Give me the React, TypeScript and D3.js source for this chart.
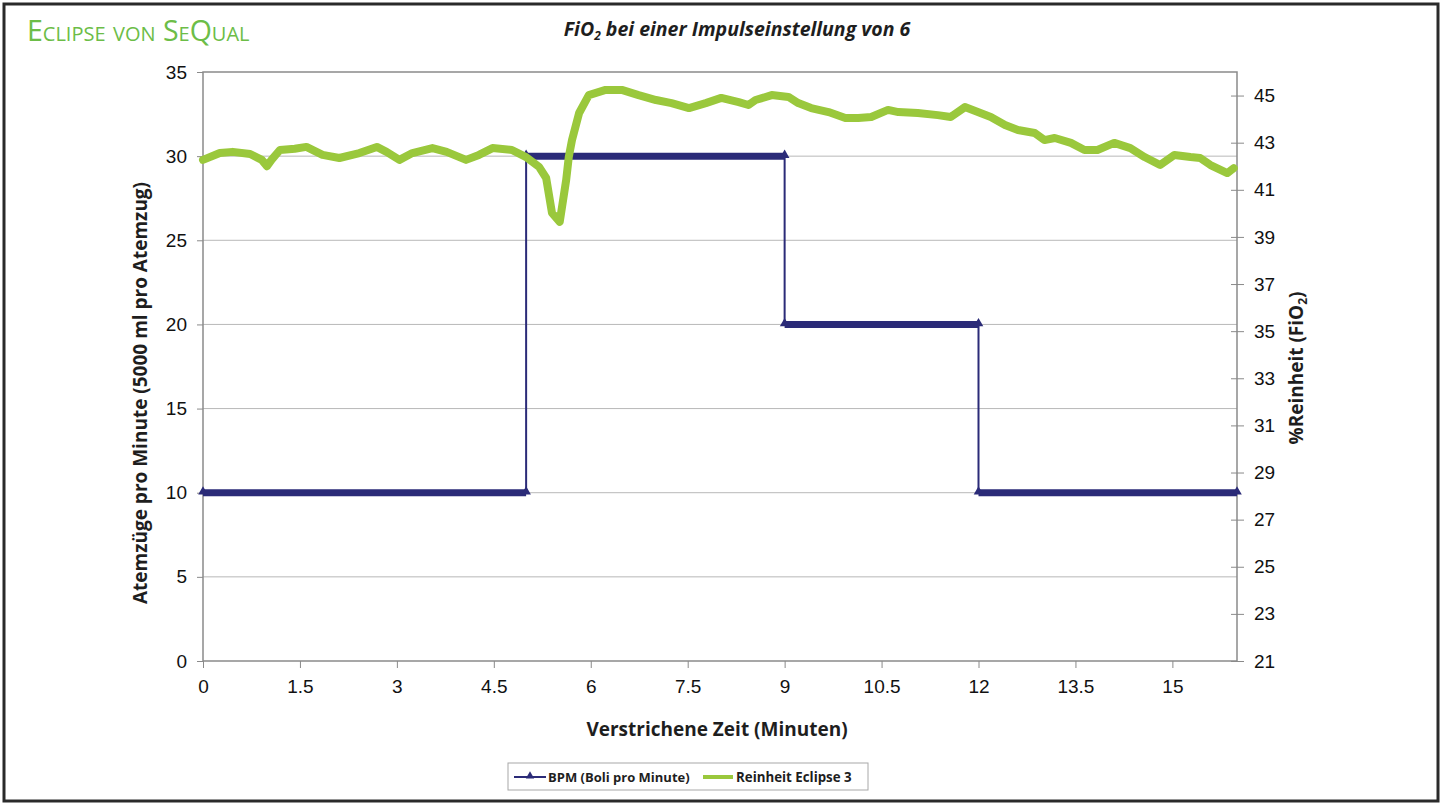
import { useEffect, useRef } from "react";
import * as d3 from "d3";

// BPM step series (Boli pro Minute)
const bpmStart = [0, 5, 9, 12];
const bpmEnd = [5, 9, 12, 16];
const bpmValue = [10, 30, 20, 10];

// purity readings (minutes, %FiO2)
const purityTime = [
  0, 0.26, 0.46, 0.73, 0.91, 0.99, 1.06, 1.19, 1.42, 1.6, 1.85, 2.11, 2.42, 2.69, 2.84, 3.04,
  3.24, 3.55, 3.77, 4.07, 4.27, 4.48, 4.78, 5.0, 5.2, 5.31, 5.4, 5.52, 5.62, 5.66, 5.71, 5.82,
  5.97, 6.23, 6.48, 6.74, 7.01, 7.25, 7.52, 7.78, 8.02, 8.29, 8.44, 8.55, 8.8, 9.06, 9.21, 9.41,
  9.68, 9.94, 10.14, 10.34, 10.6, 10.76, 11.06, 11.37, 11.57, 11.79, 11.99, 12.19, 12.41, 12.61,
  12.87, 13.02, 13.18, 13.43, 13.64, 13.84, 14.1, 14.35, 14.57, 14.81, 15.03, 15.28, 15.43,
  15.59, 15.85, 15.95,
];
const purityValue = [
  42.27, 42.56, 42.61, 42.52, 42.27, 42.0, 42.27, 42.69, 42.74, 42.82, 42.48, 42.35, 42.56,
  42.82, 42.61, 42.27, 42.56, 42.77, 42.61, 42.27, 42.48, 42.77, 42.69, 42.39, 41.97, 41.5,
  40.02, 39.64, 41.42, 42.39, 43.11, 44.26, 45.02, 45.24, 45.24, 45.02, 44.81, 44.68, 44.47,
  44.68, 44.9, 44.72, 44.6, 44.81, 45.02, 44.94, 44.68, 44.47, 44.3, 44.05, 44.05, 44.09, 44.39,
  44.3, 44.26, 44.17, 44.09, 44.51, 44.3, 44.09, 43.75, 43.54, 43.41, 43.11, 43.2, 42.99, 42.69,
  42.69, 42.99, 42.77, 42.39, 42.05, 42.48, 42.39, 42.35, 42.05, 41.71, 41.92,
];

const xTicks = [0, 1.5, 3, 4.5, 6, 7.5, 9, 10.5, 12, 13.5, 15];
const leftTicks = [0, 5, 10, 15, 20, 25, 30, 35];
const rightTicks = [21, 23, 25, 27, 29, 31, 33, 35, 37, 39, 41, 43, 45];

const NAVY = "#2b2b78";
const GREEN = "#9ac83c";
const GRID = "#b8b8b8";
const AXIS = "#8a8a8a";

export default function App() {
  const svgRef = useRef<SVGSVGElement>(null);

  useEffect(() => {
    const svg = d3.select(svgRef.current);
    svg.selectAll("*").remove();

    const left = 203, right = 1237, top = 72, bottom = 661;
    const x = d3.scaleLinear().domain([0, 16]).range([left, right]);
    const yL = d3.scaleLinear().domain([0, 35]).range([bottom, top]);
    const yR = d3.scaleLinear().domain([21, 46]).range([bottom, top]);

    // frame
    svg.append("rect")
      .attr("x", 4).attr("y", 4).attr("width", 1434).attr("height", 797)
      .attr("fill", "white").attr("stroke", "#2a2a2a").attr("stroke-width", 3);

    // header
    svg.append("text")
      .attr("x", 27).attr("y", 41)
      .attr("font-family", "Open Sans").attr("font-size", 28.5)
      .attr("font-variant", "small-caps").attr("fill", "#6cbd47")
      .text("Eclipse von SeQual");

    const title = svg.append("text")
      .attr("x", 737).attr("y", 36).attr("text-anchor", "middle")
      .attr("font-family", "Open Sans").attr("font-size", 19.5)
      .attr("font-weight", "bold").attr("font-style", "italic").attr("fill", "#1e1e1e");
    title.append("tspan").text("FiO");
    title.append("tspan").attr("font-size", 12).attr("dy", 4).text("2");
    title.append("tspan").attr("dy", -4).text(" bei einer Impulseinstellung von 6");

    // gridlines
    svg.append("g").selectAll("line")
      .data(leftTicks.filter((t) => t > 0 && t < 35))
      .join("line")
      .attr("x1", left).attr("x2", right)
      .attr("y1", (d) => yL(d)).attr("y2", (d) => yL(d))
      .attr("stroke", GRID).attr("stroke-width", 1);

    // plot border
    svg.append("rect")
      .attr("x", left).attr("y", top).attr("width", right - left).attr("height", bottom - top)
      .attr("fill", "none").attr("stroke", AXIS).attr("stroke-width", 1.5);

    const tickFont = (g: d3.Selection<SVGGElement, unknown, null, undefined>) => {
      g.select(".domain").remove();
      g.selectAll(".tick line").attr("stroke", AXIS);
      g.selectAll(".tick text")
        .attr("font-family", "Liberation Sans, Arial, sans-serif")
        .attr("font-size", 19).attr("fill", "#111");
    };

    svg.append("g")
      .attr("transform", `translate(${left},0)`)
      .call(d3.axisLeft(yL).tickValues(leftTicks).tickSize(6).tickPadding(10).tickFormat(d3.format("d")))
      .call(tickFont);

    svg.append("g")
      .attr("transform", `translate(${right},0)`)
      .call(d3.axisRight(yR).tickValues(rightTicks).tickSizeInner(7).tickSizeOuter(0).tickPadding(10).tickFormat(d3.format("d")))
      .call(tickFont)
      .call((g) => g.selectAll(".tick line").attr("x1", -6));

    svg.append("g")
      .attr("transform", `translate(0,${bottom})`)
      .call(d3.axisBottom(x).tickValues(xTicks).tickSize(7).tickPadding(12).tickFormat((d) => String(d)))
      .call(tickFont);

    // axis titles
    svg.append("text")
      .attr("transform", `translate(147,393) rotate(-90)`)
      .attr("text-anchor", "middle")
      .attr("font-family", "Open Sans").attr("font-weight", "bold").attr("font-size", 19)
      .attr("fill", "#1e1e1e")
      .text("Atemzüge pro Minute (5000 ml pro Atemzug)");

    const rt = svg.append("text")
      .attr("transform", `translate(1303,368) rotate(-90)`)
      .attr("text-anchor", "middle")
      .attr("font-family", "Open Sans").attr("font-weight", "bold").attr("font-size", 19)
      .attr("fill", "#1e1e1e");
    rt.append("tspan").text("%Reinheit (FiO");
    rt.append("tspan").attr("font-size", 12).attr("dy", 4).text("2");
    rt.append("tspan").attr("dy", -4).text(")");

    svg.append("text")
      .attr("x", 717).attr("y", 736).attr("text-anchor", "middle")
      .attr("font-family", "Open Sans").attr("font-weight", "bold").attr("font-size", 19)
      .attr("fill", "#1e1e1e")
      .text("Verstrichene Zeit (Minuten)");

    // BPM step line
    const steps = bpmValue.map((v, i) => ({ s: bpmStart[i], e: bpmEnd[i], v }));
    const stepPts: [number, number][] = steps.flatMap((d) => [[d.s, d.v], [d.e, d.v]] as [number, number][]);
    svg.append("path")
      .datum(stepPts)
      .attr("fill", "none").attr("stroke", NAVY).attr("stroke-width", 2)
      .attr("d", d3.line<[number, number]>().x((d) => x(d[0])).y((d) => yL(d[1])));
    svg.append("g").selectAll("line")
      .data(steps)
      .join("line")
      .attr("x1", (d) => x(d.s)).attr("x2", (d) => x(d.e))
      .attr("y1", (d) => yL(d.v)).attr("y2", (d) => yL(d.v))
      .attr("stroke", NAVY).attr("stroke-width", 7);
    svg.append("g").selectAll("path")
      .data(stepPts)
      .join("path")
      .attr("transform", (d) => `translate(${x(d[0])},${yL(d[1]) - 1})`)
      .attr("d", d3.symbol(d3.symbolTriangle, 40)())
      .attr("fill", NAVY);

    // purity line
    const pur: [number, number][] = purityTime.map((t, i) => [t, purityValue[i]]);
    svg.append("path")
      .datum(pur)
      .attr("fill", "none").attr("stroke", GREEN).attr("stroke-width", 8)
      .attr("stroke-linejoin", "round").attr("stroke-linecap", "round")
      .attr("d", d3.line<[number, number]>().x((d) => x(d[0])).y((d) => yR(d[1])));

    // legend
    const lg = svg.append("g").attr("transform", "translate(508,763)");
    lg.append("rect").attr("width", 360).attr("height", 27)
      .attr("fill", "white").attr("stroke", "#a8a8a8").attr("stroke-width", 1);
    lg.append("line").attr("x1", 6).attr("x2", 38).attr("y1", 14).attr("y2", 14)
      .attr("stroke", NAVY).attr("stroke-width", 2);
    lg.append("path").attr("transform", "translate(22,13)")
      .attr("d", d3.symbol(d3.symbolTriangle, 30)()).attr("fill", NAVY);
    lg.append("text").attr("x", 40).attr("y", 19)
      .attr("font-family", "Open Sans").attr("font-weight", "bold").attr("font-size", 13)
      .attr("fill", "#1e1e1e").text("BPM (Boli pro Minute)");
    lg.append("line").attr("x1", 195).attr("x2", 225).attr("y1", 14).attr("y2", 14)
      .attr("stroke", GREEN).attr("stroke-width", 4);
    lg.append("text").attr("x", 228).attr("y", 19)
      .attr("font-family", "Open Sans").attr("font-weight", "bold").attr("font-size", 13.3)
      .attr("fill", "#1e1e1e").text("Reinheit Eclipse 3");
  }, []);

  return (
    <svg
      ref={svgRef}
      width={1442}
      height={804}
      style={{ position: "absolute", left: 0, top: 0, background: "white" }}
    />
  );
}
